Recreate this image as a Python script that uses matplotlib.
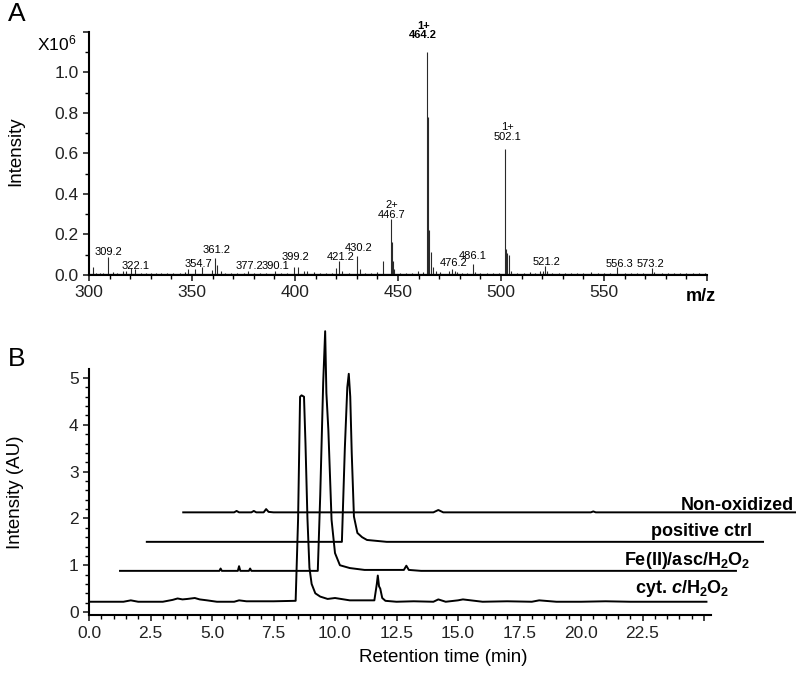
import numpy as np
import matplotlib
matplotlib.use("Agg")
import matplotlib.pyplot as plt
from matplotlib.ticker import MultipleLocator, FixedLocator

plt.rcParams['font.family'] = ['Liberation Sans', 'DejaVu Sans']
plt.rcParams['mathtext.fontset'] = 'custom'
plt.rcParams['mathtext.rm'] = 'Liberation Sans'
plt.rcParams['mathtext.it'] = 'Liberation Sans:italic:bold'
plt.rcParams['mathtext.bf'] = 'Liberation Sans:bold'

# ---- panel A: mass spectrum (intensity in units of 1e6) ----
peak_mz = [302.1, 309.3, 316.3, 320.2, 322.1, 348.2, 351.6, 354.8, 359.5, 361.2,
           362.0, 364.0, 377.3, 390.2, 399.3, 401.4, 404.5, 406.0, 420.0, 421.3,
           423.0, 430.2, 431.4, 442.8, 446.7, 447.2, 447.7, 448.3, 459.5, 462.0,
           464.2, 464.7, 465.2, 466.2, 467.2, 468.5, 475.0, 476.3, 477.5, 478.5,
           486.3, 487.2, 502.1, 502.6, 503.1, 504.1, 505.0, 519.0, 520.3, 521.5,
           522.3, 556.5, 573.3, 574.3]
peak_h = [0.04, 0.09, 0.02, 0.035, 0.03, 0.03, 0.03, 0.04, 0.025, 0.085,
          0.05, 0.02, 0.02, 0.02, 0.04, 0.04, 0.02, 0.018, 0.035, 0.07,
          0.02, 0.095, 0.03, 0.07, 0.275, 0.165, 0.07, 0.03, 0.02, 0.015,
          1.10, 0.78, 0.22, 0.115, 0.04, 0.02, 0.02, 0.03, 0.02, 0.015,
          0.055, 0.015, 0.624, 0.13, 0.11, 0.10, 0.02, 0.02, 0.02, 0.045,
          0.02, 0.04, 0.035, 0.015]

noise_mz = [303.5, 305.5, 307.0, 311.5, 313.5, 318.0, 325.0, 327.5, 330.0, 332.5,
            335.0, 338.0, 341.0, 344.0, 346.5, 366.0, 369.0, 372.0, 375.0, 380.0,
            383.0, 386.0, 393.0, 396.0, 409.0, 412.0, 415.0, 418.0, 426.0, 434.0,
            437.0, 440.0, 451.0, 454.0, 457.0, 470.5, 481.0, 483.5, 490.0, 493.0,
            496.0, 499.0, 508.0, 511.0, 514.0, 516.5, 525.0, 528.0, 531.0, 534.0,
            537.0, 540.0, 543.5, 547.0, 550.0, 553.0, 560.0, 563.0, 566.0, 569.0,
            578.0, 581.0, 584.0, 587.0, 590.0, 593.0, 596.0, 599.0]
noise_h = [0.012, 0.008, 0.01, 0.015, 0.01, 0.02, 0.01, 0.008, 0.012, 0.01,
           0.009, 0.011, 0.008, 0.01, 0.015, 0.012, 0.01, 0.008, 0.012, 0.01,
           0.009, 0.011, 0.01, 0.012, 0.015, 0.01, 0.008, 0.012, 0.01, 0.012,
           0.01, 0.015, 0.01, 0.012, 0.01, 0.015, 0.012, 0.01, 0.008, 0.011,
           0.01, 0.009, 0.012, 0.01, 0.015, 0.012, 0.01, 0.011, 0.009, 0.012,
           0.01, 0.008, 0.015, 0.01, 0.009, 0.012, 0.01, 0.011, 0.009, 0.012,
           0.01, 0.009, 0.012, 0.01, 0.011, 0.009, 0.01, 0.012]

label_text = ['309.2', '322.1', '354.7', '361.2', '377.2', '390.1', '399.2', '421.2',
              '430.2', '2+\n446.7', '1+\n464.2', '476.2', '486.1', '1+\n502.1',
              '521.2', '556.3', '573.2']
label_x = [309.3, 322.6, 353.0, 362.0, 377.7, 390.5, 400.1, 422.0,
           431.0, 447.0, 462.3, 476.9, 486.4, 503.2, 522.0, 557.3, 572.8]
label_y = [0.115, 0.046, 0.054, 0.124, 0.045, 0.045, 0.09, 0.088,
           0.135, 0.322, 1.207, 0.058, 0.094, 0.705, 0.066, 0.054, 0.054]
label_bold = ['1+\n464.2']

# ---- panel B: chromatograms (drawn with the waterfall offsets) ----
cyt_t = [0.0, 1.4, 1.7, 2.0, 3.0, 3.4, 3.6, 3.8, 4.0, 4.3,
         4.5, 4.8, 5.2, 5.9, 6.1, 6.4, 7.5, 8.40, 8.50, 8.58,
         8.64, 8.74, 8.80, 8.88, 8.96, 9.05, 9.2, 9.4, 9.7, 10.0,
         10.6, 11.2, 11.6, 11.70, 11.74, 11.79, 11.84, 11.92, 12.05, 12.5,
         13.2, 14.0, 14.2, 14.5, 15.0, 15.2, 16.0, 17.0, 18.0, 18.3,
         19.0, 20.0, 21.0, 22.0, 23.0, 24.0, 25.1]
cyt_y = [0.22, 0.22, 0.25, 0.22, 0.22, 0.26, 0.29, 0.27, 0.28, 0.30,
         0.27, 0.25, 0.22, 0.22, 0.25, 0.23, 0.23, 0.24, 2.0, 4.6,
         4.63, 4.6, 3.6, 2.0, 0.95, 0.6, 0.4, 0.33, 0.28, 0.30,
         0.25, 0.25, 0.25, 0.6, 0.78, 0.55, 0.5, 0.3, 0.24, 0.22,
         0.23, 0.22, 0.27, 0.22, 0.25, 0.27, 0.22, 0.23, 0.22, 0.25,
         0.22, 0.22, 0.23, 0.22, 0.22, 0.22, 0.22]

fe_t = [1.26, 4.5, 5.3, 5.35, 5.4, 6.05, 6.1, 6.15, 6.5, 6.55,
        6.6, 9.30, 9.40, 9.52, 9.60, 9.65, 9.73, 9.86, 10.0, 10.2,
        10.6, 11.2, 12.8, 12.9, 13.0, 13.5, 26.3]
fe_y = [0.88, 0.88, 0.88, 0.93, 0.88, 0.88, 0.98, 0.88, 0.88, 0.93,
        0.88, 0.88, 2.5, 4.9, 6.0, 4.68, 3.89, 1.97, 1.26, 1.0,
        0.94, 0.9, 0.9, 0.99, 0.9, 0.88, 0.88]

pos_t = [2.35, 10.28, 10.40, 10.50, 10.56, 10.62, 10.68, 10.77, 10.91, 11.1, 11.3, 11.7, 12.1, 27.4]
pos_y = [1.5, 1.5, 3.5, 4.8, 5.09, 4.6, 3.4, 2.04, 1.69, 1.6, 1.54, 1.52, 1.5, 1.5]

non_t = [3.83, 5.9, 6.0, 6.1, 6.6, 6.7, 6.8, 7.1, 7.2, 7.3, 7.5, 14.0, 14.2, 14.4, 20.4, 20.5, 20.6, 28.7]
non_y = [2.13, 2.13, 2.16, 2.13, 2.13, 2.16, 2.13, 2.13, 2.2, 2.14, 2.13, 2.13, 2.18, 2.13, 2.13, 2.15, 2.13, 2.13]

trace_names = [r'cyt. $\mathit{c}$/H$_\mathbf{2}$O$_\mathbf{2}$',
               r'Fe(II)/asc/H$_\mathbf{2}$O$_\mathbf{2}$',
               'positive ctrl', 'Non-oxidized']
name_x = [26.05, 26.87, 26.95, 28.66]
name_y = [0.40, 1.0, 1.62, 2.19]

fig = plt.figure(figsize=(8, 6.77), dpi=100)

# ---------------- A ----------------
ax1 = fig.add_axes([0.11125, 0.5938, 0.7725, 0.359])
ax1.plot([300, 600], [0.004, 0.004], color='#222222', lw=0.9)
ax1.vlines(noise_mz, 0, noise_h, color='#222222', lw=0.8)
ax1.vlines(peak_mz, 0, peak_h, color='#2a2a2a', lw=0.8)
for txt, x, y in zip(label_text, label_x, label_y):
    ax1.text(x, y, txt, ha='center', va='center', fontsize=8, linespacing=0.95,
             fontweight='bold' if txt in label_bold else 'normal', clip_on=False)

ax1.set_xlim(300, 600)
ax1.set_ylim(0, 1.2)
ax1.xaxis.set_major_locator(FixedLocator([300, 350, 400, 450, 500, 550, 600]))
ax1.set_xticklabels(['300', '350', '400', '450', '500', '550', ''])
ax1.xaxis.set_minor_locator(MultipleLocator(10))
ax1.yaxis.set_major_locator(FixedLocator([0, 0.2, 0.4, 0.6, 0.8, 1.0, 1.2]))
ax1.set_yticklabels(['0.0', '0.2', '0.4', '0.6', '0.8', '1.0', ''])
ax1.yaxis.set_minor_locator(MultipleLocator(0.1))
ax1.text(597, -0.105, 'm/z', ha='center', va='center', fontsize=13, fontweight='bold',
         clip_on=False)
ax1.set_ylabel('Intensity', fontsize=13.5)
ax1.yaxis.set_label_coords(-0.105, 0.51)
fig.text(37 / 800, 1 - 43 / 677, r'X10$^\mathregular{6}$', ha='left', va='center',
         fontsize=12.5)

# ---------------- B ----------------
ax2 = fig.add_axes([0.11125, 0.0911, 0.8856, 0.4335])
for t, y in [(cyt_t, cyt_y), (fe_t, fe_y), (pos_t, pos_y), (non_t, non_y)]:
    ax2.plot(t, y, color='black', lw=1.4, clip_on=False)
for name, x, y in zip(trace_names, name_x, name_y):
    ax2.text(x, y, name, ha='right', va='baseline', fontsize=13, fontweight='bold')

ax2.set_xlim(0, 28.8)
ax2.set_ylim(-0.07, 6.2)
ax2.spines['left'].set_bounds(-0.07, 5.2)
ax2.spines['bottom'].set_bounds(0, 25.3)
ax2.xaxis.set_major_locator(FixedLocator(np.arange(0, 25.1, 2.5)))
ax2.set_xticklabels(['0.0', '2.5', '5.0', '7.5', '10.0', '12.5', '15.0', '17.5',
                     '20.0', '22.5', ''])
ax2.xaxis.set_minor_locator(FixedLocator(np.arange(0, 25.1, 0.5)))
ax2.yaxis.set_major_locator(FixedLocator([0, 1, 2, 3, 4, 5]))
ax2.yaxis.set_minor_locator(FixedLocator(np.arange(0, 5.1, 0.2)))
ax2.set_xlabel('Retention time (min)', fontsize=13.5, labelpad=6)
ax2.set_ylabel('Intensity (AU)', fontsize=13.5)
ax2.yaxis.set_label_coords(-0.092, 0.42)

for ax in (ax1, ax2):
    ax.spines['top'].set_visible(False)
    ax.spines['right'].set_visible(False)
    ax.spines['left'].set_linewidth(1.5)
    ax.spines['bottom'].set_linewidth(1.5)
    ax.tick_params(which='major', direction='out', length=4, width=1.2,
                   labelsize=12.5, colors='#222222')
    ax.tick_params(which='minor', direction='out', length=3, width=1.0)
    ax.patch.set_alpha(0)

fig.text(8 / 800, 1 - 14 / 677, 'A', fontsize=19, ha='left', va='center')
fig.text(8 / 800, 1 - 359 / 677, 'B', fontsize=19, ha='left', va='center')

fig.savefig('out.png', dpi=100)
